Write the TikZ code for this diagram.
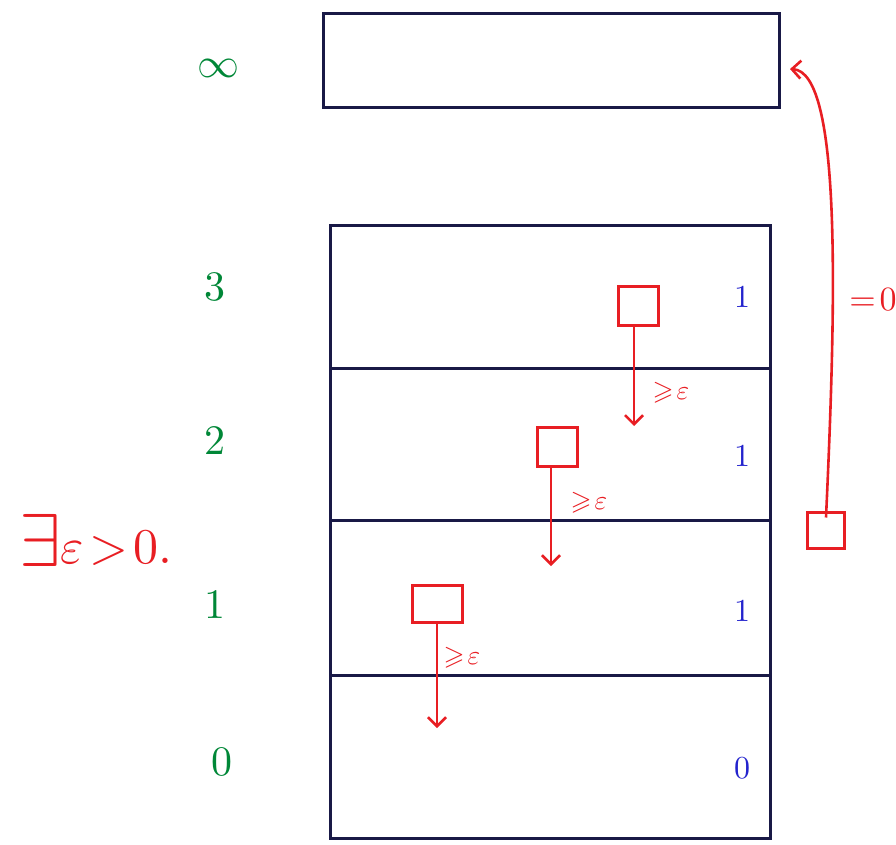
\documentclass[tikz,border=0pt]{standalone}
\usepackage{graphicx}
\usepackage{amssymb}
\usetikzlibrary{arrows.meta}
\definecolor{navy}{RGB}{25,25,70}
\definecolor{gr}{RGB}{0,135,55}
\definecolor{bl}{RGB}{35,35,205}
\definecolor{rd}{RGB}{232,30,35}
\begin{document}
\begin{tikzpicture}[x=1pt,y=-1pt,
  rowbox/.style={draw=navy,line width=3pt,minimum width=440pt,inner sep=0pt,outer sep=0pt},
  lvl/.style={text=gr,scale=4.2},
  val/.style={text=bl,scale=3.2},
  sq/.style={draw=rd,line width=3pt,minimum width=40pt,minimum height=39pt,inner sep=0pt},
  rarr/.style={draw=rd,line width=2.6pt,-{Straight Barb[length=9pt,width=18pt,line width=2.6pt]}},
  lab/.style={text=rd,scale=2.7}]
\useasboundingbox (0,0) rectangle (896,844);
% top box
\node[draw=navy,line width=3pt,minimum width=456pt,minimum height=94pt,inner sep=0pt] (inf) at (551,60) {};
% rows
\node[rowbox,minimum height=143pt] (r3) at (550,296.5) {};
\node[rowbox,minimum height=152pt] (r2) at (550,444) {};
\node[rowbox,minimum height=155pt] (r1) at (550,597.5) {};
\node[rowbox,minimum height=163pt] (r0) at (550,756.5) {};
% level labels
\node[lvl] (linf) at (218,68) {$\infty$};
\node[lvl] (l3) at (215,287) {3};
\node[lvl] (l2) at (215,441) {2};
\node[lvl] (l1) at (215,605) {1};
\node[lvl] (l0) at (222,762) {0};
% values
\node[val] (v3) at (742,297) {1};
\node[val] (v2) at (742,456) {1};
\node[val] (v1) at (742,611) {1};
\node[val] (v0) at (742,768) {0};
% squares
\node[sq] (s3) at (638,306) {};
\node[sq] (s2) at (557,447) {};
\node[sq,minimum width=50pt,minimum height=37pt] (s1) at (437,604) {};
\node[sq,minimum width=37pt,minimum height=36pt] (sr) at (826,530) {};
% arrow ends
\coordinate (e3) at (634,426);
\coordinate (e2) at (551,566);
\coordinate (e1) at (437,728);
\coordinate (einf) at (790,69);
\draw[rarr] (s3.south -| e3) -- (e3);
\draw[rarr] (s2.south -| e2) -- (e2);
\draw[rarr] (s1.south) -- (e1);
\node[lab] (g3) at (671,393) {$\geqslant\!\varepsilon$};
\node[lab] (g2) at (589,503) {$\geqslant\!\varepsilon$};
\node[lab] (g1) at (462,658) {$\geqslant\!\varepsilon$};
\draw[rarr] ([yshift=-7pt]sr.north) .. controls (836,300) and (842,72) .. (einf);
\node[text=rd,scale=3.4] (z) at (873,300) {$=\!0$};
% exists epsilon
\node[text=rd,anchor=west,inner sep=0pt,scale=5] (ex) at (18,540) {\raisebox{-0.1ex}{\scalebox{1.5}{$\exists$}}$\varepsilon\!>\!0.$};
\end{tikzpicture}
\end{document}
